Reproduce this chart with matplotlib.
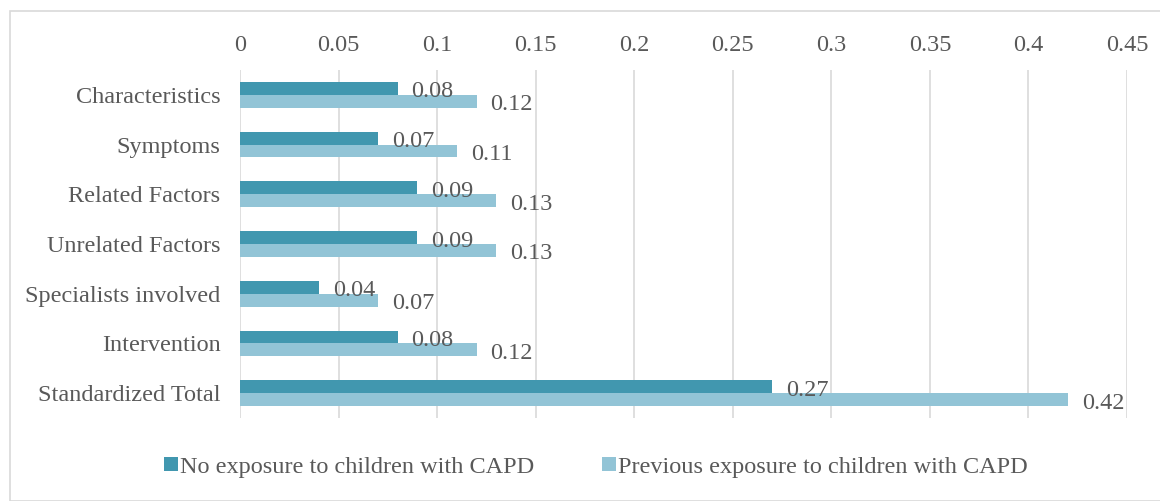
import matplotlib
matplotlib.use('Agg')
import matplotlib.pyplot as plt
import numpy as np
from matplotlib.patches import Rectangle

categories = ['Characteristics', 'Symptoms', 'Related Factors', 'Unrelated Factors',
              'Specialists involved', 'Intervention', 'Standardized Total']
no_exposure = [0.08, 0.07, 0.09, 0.09, 0.04, 0.08, 0.27]
prev_exposure = [0.12, 0.11, 0.13, 0.13, 0.07, 0.12, 0.42]
series_names = ['No exposure to children with CAPD', 'Previous exposure to children with CAPD']
xticks = [0, 0.05, 0.1, 0.15, 0.2, 0.25, 0.3, 0.35, 0.4, 0.45]
xtick_labels = ['0', '0.05', '0.1', '0.15', '0.2', '0.25', '0.3', '0.35', '0.4', '0.45']

DARK = '#4197AF'
LIGHT = '#92C4D6'
TXT = '#595959'
GRID = '#D9D9D9'
FS = 17.5

plt.rcParams['font.family'] = ['Liberation Serif', 'DejaVu Serif']

fig = plt.figure(figsize=(11.6, 5.01), dpi=100)
ax = fig.add_axes([240/1160, 1-418/501, (1127-240)/1160, (418-70)/501])

y = np.arange(len(categories))
h = 0.26
b1 = ax.barh(y - h/2, no_exposure, height=h, color=DARK, label=series_names[0], zorder=3)
b2 = ax.barh(y + h/2, prev_exposure, height=h, color=LIGHT, label=series_names[1], zorder=3)

for i in range(len(categories)):
    ax.annotate('%.2f' % no_exposure[i], (no_exposure[i], y[i] - h/2 + 0.07),
                xytext=(10, 0), textcoords='offset points', va='center', ha='left',
                fontsize=FS, color=TXT, zorder=4)
    ax.annotate('%.2f' % prev_exposure[i], (prev_exposure[i], y[i] + h/2 + 0.07),
                xytext=(10, 0), textcoords='offset points', va='center', ha='left',
                fontsize=FS, color=TXT, zorder=4)

ax.set_xlim(0, 0.45)
ax.set_ylim(len(categories) - 0.5, -0.5)
ax.set_yticks(y)
ax.set_yticklabels(categories)
ax.set_xticks(xticks)
ax.set_xticklabels(xtick_labels)
ax.xaxis.tick_top()
ax.tick_params(axis='both', length=0, labelsize=FS, labelcolor=TXT)
ax.tick_params(axis='x', pad=10)
ax.tick_params(axis='y', pad=14)
ax.grid(axis='x', color=GRID, linewidth=1.2, zorder=0)
for s in ax.spines.values():
    s.set_visible(False)

leg = fig.legend(handles=[b1, b2], loc='center', bbox_to_anchor=(596/1160, 1-467/501), ncol=2,
                 frameon=False, fontsize=FS, handlelength=0.55, handleheight=0.55,
                 handletextpad=0.1, columnspacing=2.8, labelcolor=TXT)

fig.patches.append(Rectangle((10/1160, 0), 1.0, 1-11/501, transform=fig.transFigure,
                             fill=False, edgecolor=GRID, linewidth=1.2))

fig.savefig('out.png', dpi=100)
